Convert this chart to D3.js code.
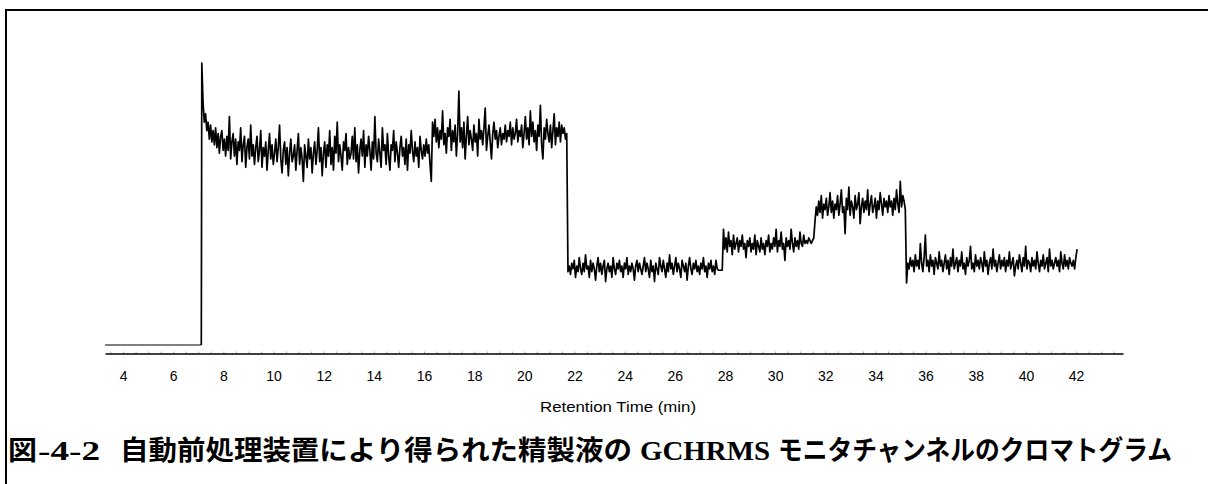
<!DOCTYPE html>
<html>
<head>
<meta charset="utf-8">
<script src="https://cdn.jsdelivr.net/npm/d3@7"></script>
<style>
  body { margin: 0; background: #fff; }
  svg { display: block; }
</style>
</head>
<body>
<div id="chart"></div>
<script>
// tick labels on the retention time axis
const tickLabels = [4, 6, 8, 10, 12, 14, 16, 18, 20, 22, 24, 26, 28, 30, 32, 34, 36, 38, 40, 42];

// flat baseline before the solvent front (min, signal)
const baseTimes = [3.28, 7.12];
const baseValues = [0, 0];

// monitor channel signal, sampled every 0.05 min from 7.14 min (relative intensity, %)
const startTime = 7.14;
const step = 0.05;

const level1 = [
  100, 86, 79, 82, 76, 79, 73, 78, 72, 76, 71, 77, 70, 75, 68, 74, 76, 69, 73, 67,
  74, 69, 81, 66, 72, 75, 67, 73, 64, 72, 69, 77, 65, 71, 74, 63, 70, 73, 66, 78,
  67, 71, 64, 70, 74, 65, 69, 76, 63, 70, 67, 72, 62, 69, 75, 66, 71, 64, 68, 73,
  65, 70, 78, 66, 61, 69, 72, 64, 70, 60, 68, 73, 65, 67, 71, 62, 69, 75, 64, 70,
  66, 58, 71, 67, 63, 73, 66, 70, 61, 68, 72, 64, 69, 77, 65, 70, 60, 68, 72, 63,
  71, 67, 76, 64, 70, 62, 74, 68, 79, 65, 71, 67, 62, 72, 69, 75, 64, 70, 66, 68,
  74, 66, 77, 65, 71, 61, 69, 73, 67, 76, 63, 71, 67, 74, 69, 62, 72, 66, 81, 68,
  65, 73, 68, 63, 77, 69, 71, 64, 75, 67, 62, 71, 69, 76, 65, 72, 68, 63, 70, 74,
  67, 70, 64, 73, 62, 71, 68, 76, 69, 65, 72, 67, 70, 63, 74, 69, 66, 71, 67, 73,
  68, 71, 64, 58
];

const level2 = [
  79, 74, 80, 72, 77, 70, 76, 73, 83, 71, 75, 68, 77, 74, 80, 69, 76, 72, 78, 67,
  75, 90, 72, 77, 70, 79, 66, 74, 81, 71, 76, 73, 69, 78, 72, 75, 67, 80, 73, 76,
  71, 77, 84, 69, 74, 78, 72, 66, 75, 79, 73, 76, 70, 74, 77, 71, 75, 73, 78, 72,
  76, 74, 79, 71, 77, 73, 75, 80, 72, 76, 74, 78, 70, 75, 81, 73, 77, 71, 83, 74,
  79, 72, 76, 69, 78, 74, 85, 71, 66, 77, 73, 80, 75, 72, 78, 70, 76, 82, 71, 77,
  74, 79, 72, 78, 75, 77, 73, 75
];

const level3 = [
  26, 28, 25, 29, 27, 30, 24, 28, 26, 31, 27, 25, 29, 26, 32, 27, 28, 24, 30, 26,
  29, 27, 23, 28, 31, 26, 29, 25, 28, 30, 22.5, 27, 29, 26, 28, 24, 31, 27, 25, 29,
  27, 30, 26, 28, 24, 29, 27, 31, 25, 28, 26, 29, 27, 23, 28, 30, 26, 29, 27, 25,
  28, 31, 26, 29, 27, 24, 30, 26, 28, 22.5, 29, 27, 25, 31, 28, 26, 30, 27, 24, 29,
  26, 32, 27, 29, 25, 28, 31, 26, 29, 27, 24, 30, 28, 26, 29, 23, 28, 31, 27, 25,
  29, 27, 30, 26, 28, 25, 29, 27, 31, 26, 28, 24, 29, 27, 30, 26, 28, 25, 30, 27,
  26.5, 26.5, 26.5, 26.5
];

const level4 = [
  41, 34, 38, 33, 40, 35, 37, 32, 39, 34, 36, 38, 33, 37, 35, 39, 34, 36, 31, 37,
  35, 38, 33, 36, 34, 39, 32, 37, 35, 33, 38, 34, 36, 32, 37, 35, 39, 33, 36, 34,
  38, 35, 41, 33, 37, 35, 40, 34, 36, 30, 38, 35, 37, 34, 41, 36, 33, 38, 35, 37,
  34, 40, 36, 35, 39, 36, 37, 36, 38, 37, 36, 37
];

const level5 = [
  38, 44, 49, 46, 51, 47, 53, 45, 50, 48, 52, 46, 49, 54, 47, 51, 45, 50, 48, 53,
  46, 50, 55, 47, 49, 39.5, 52, 48, 56, 46, 51, 49, 45, 53, 48, 50, 54, 43, 49, 52,
  47, 51, 48, 55, 46, 50, 53, 47, 49, 52, 45, 51, 48, 54, 50, 46, 52, 49, 51, 47,
  53, 49, 51, 46, 52, 48, 55, 50, 47, 58, 49, 53, 51, 48
];

const level6 = [
  22, 29, 27, 31, 28, 30, 26, 32, 28, 30, 27, 36, 29, 26, 31, 39, 28, 30, 26, 32,
  28, 30, 25, 31, 29, 27, 33, 28, 30, 26, 29, 32, 27, 30, 25, 31, 28, 34, 27, 29,
  31, 26, 30, 28, 33, 27, 29, 25, 31, 28, 30, 35, 27, 29, 26, 32, 28, 30, 27, 31,
  29, 26, 33, 28, 30, 25, 29, 31, 27, 34, 28, 30, 26, 29, 32, 27, 30, 28, 31, 26,
  30, 28, 33, 27, 29, 31, 24.5, 28, 30, 27, 32, 29, 26, 31, 28, 35, 27, 30, 29, 26,
  31, 28, 30, 27, 33, 29, 26, 30, 28, 32, 27, 29, 31, 26, 34, 28, 30, 27, 29, 31,
  28, 30, 26, 33, 29, 27, 32, 28, 30, 27, 31, 29, 28, 30, 27, 31, 34
];

const xLabel = "Retention Time (min)";
const titleParts = ["図", "-4-2", "自動前処理装置により得られた精製液の", "GCHRMS", "モニタチャンネルのクロマトグラム"];

const W = 1208, H = 484;

const svg = d3.select("#chart")
  .append("svg")
    .attr("width", W)
    .attr("height", H)
    .attr("viewBox", `0 0 ${W} ${H}`);

// frame (top and left edges visible)
svg.append("path")
  .attr("d", `M6,${H + 5}V10H${W + 5}`)
  .attr("fill", "none")
  .attr("stroke", "#000")
  .attr("stroke-width", 2);

const x = d3.scaleLinear()
  .domain([3.28, 43.87])
  .range([105, 1123]);

const y = d3.scaleLinear()
  .domain([0, 100])
  .range([345, 63]);

const signal = [].concat(level1, level2, level3, level4, level5, level6);
const points = signal.map((v, i) => [startTime + i * step, v]);
const base = baseTimes.map((t, i) => [t, baseValues[i]]);

const line = d3.line()
  .x(d => x(d[0]))
  .y(d => y(d[1]));

// minor ticks
const minor = d3.range(3.5, 43.6, 0.5);
svg.append("g")
  .attr("transform", "translate(0,353.5)")
  .call(d3.axisBottom(x).tickValues(minor).tickSizeInner(-2).tickSizeOuter(0).tickFormat(""))
  .call(g => g.select(".domain").remove())
  .call(g => g.selectAll(".tick line").attr("stroke", "#aaa"));

// main axis
const axis = svg.append("g")
  .attr("transform", "translate(0,353.5)")
  .call(d3.axisBottom(x).tickValues(tickLabels).tickSize(0).tickSizeOuter(0).tickPadding(18));

axis.select(".domain")
  .attr("stroke", "#000")
  .attr("stroke-width", 1.5);

axis.selectAll(".tick text")
  .style("font-family", "'Liberation Sans', Arial, sans-serif")
  .style("font-size", "14px")
  .attr("fill", "#000");

svg.append("text")
  .attr("x", 540)
  .attr("y", 412)
  .attr("textLength", 156)
  .attr("lengthAdjust", "spacingAndGlyphs")
  .style("font-family", "'Liberation Sans', Arial, sans-serif")
  .style("font-size", "14px")
  .text(xLabel);

// trace
svg.append("path")
  .datum(base)
  .attr("d", line)
  .attr("fill", "none")
  .attr("stroke", "#555")
  .attr("stroke-width", 1.5);

svg.append("path")
  .datum([base[base.length - 1]].concat(points))
  .attr("d", line)
  .attr("fill", "none")
  .attr("stroke", "#000")
  .attr("stroke-width", 1.7)
  .attr("stroke-linejoin", "round");

// title, laid out in runs of Japanese gothic and serif latin
const cjk = "'Noto Sans CJK JP', sans-serif";
const serif = "'Liberation Serif', 'Times New Roman', serif";
const runs = [
  {text: titleParts[0], font: cjk,   x0: 8,   x1: 37},
  {text: titleParts[1], font: serif, x0: 38,  x1: 100},
  {text: titleParts[2], font: cjk,   x0: 120, x1: 632},
  {text: titleParts[3], font: serif, x0: 640, x1: 770},
  {text: titleParts[4], font: cjk,   x0: 778, x1: 1172}
];

svg.selectAll(".title-run")
  .data(runs)
  .join("text")
    .attr("class", "title-run")
    .attr("x", d => d.x0)
    .attr("y", 460)
    .attr("textLength", d => d.x1 - d.x0)
    .attr("lengthAdjust", "spacingAndGlyphs")
    .style("font-family", d => d.font)
    .style("font-weight", "bold")
    .style("font-size", "27px")
    .text(d => d.text);
</script>
</body>
</html>
